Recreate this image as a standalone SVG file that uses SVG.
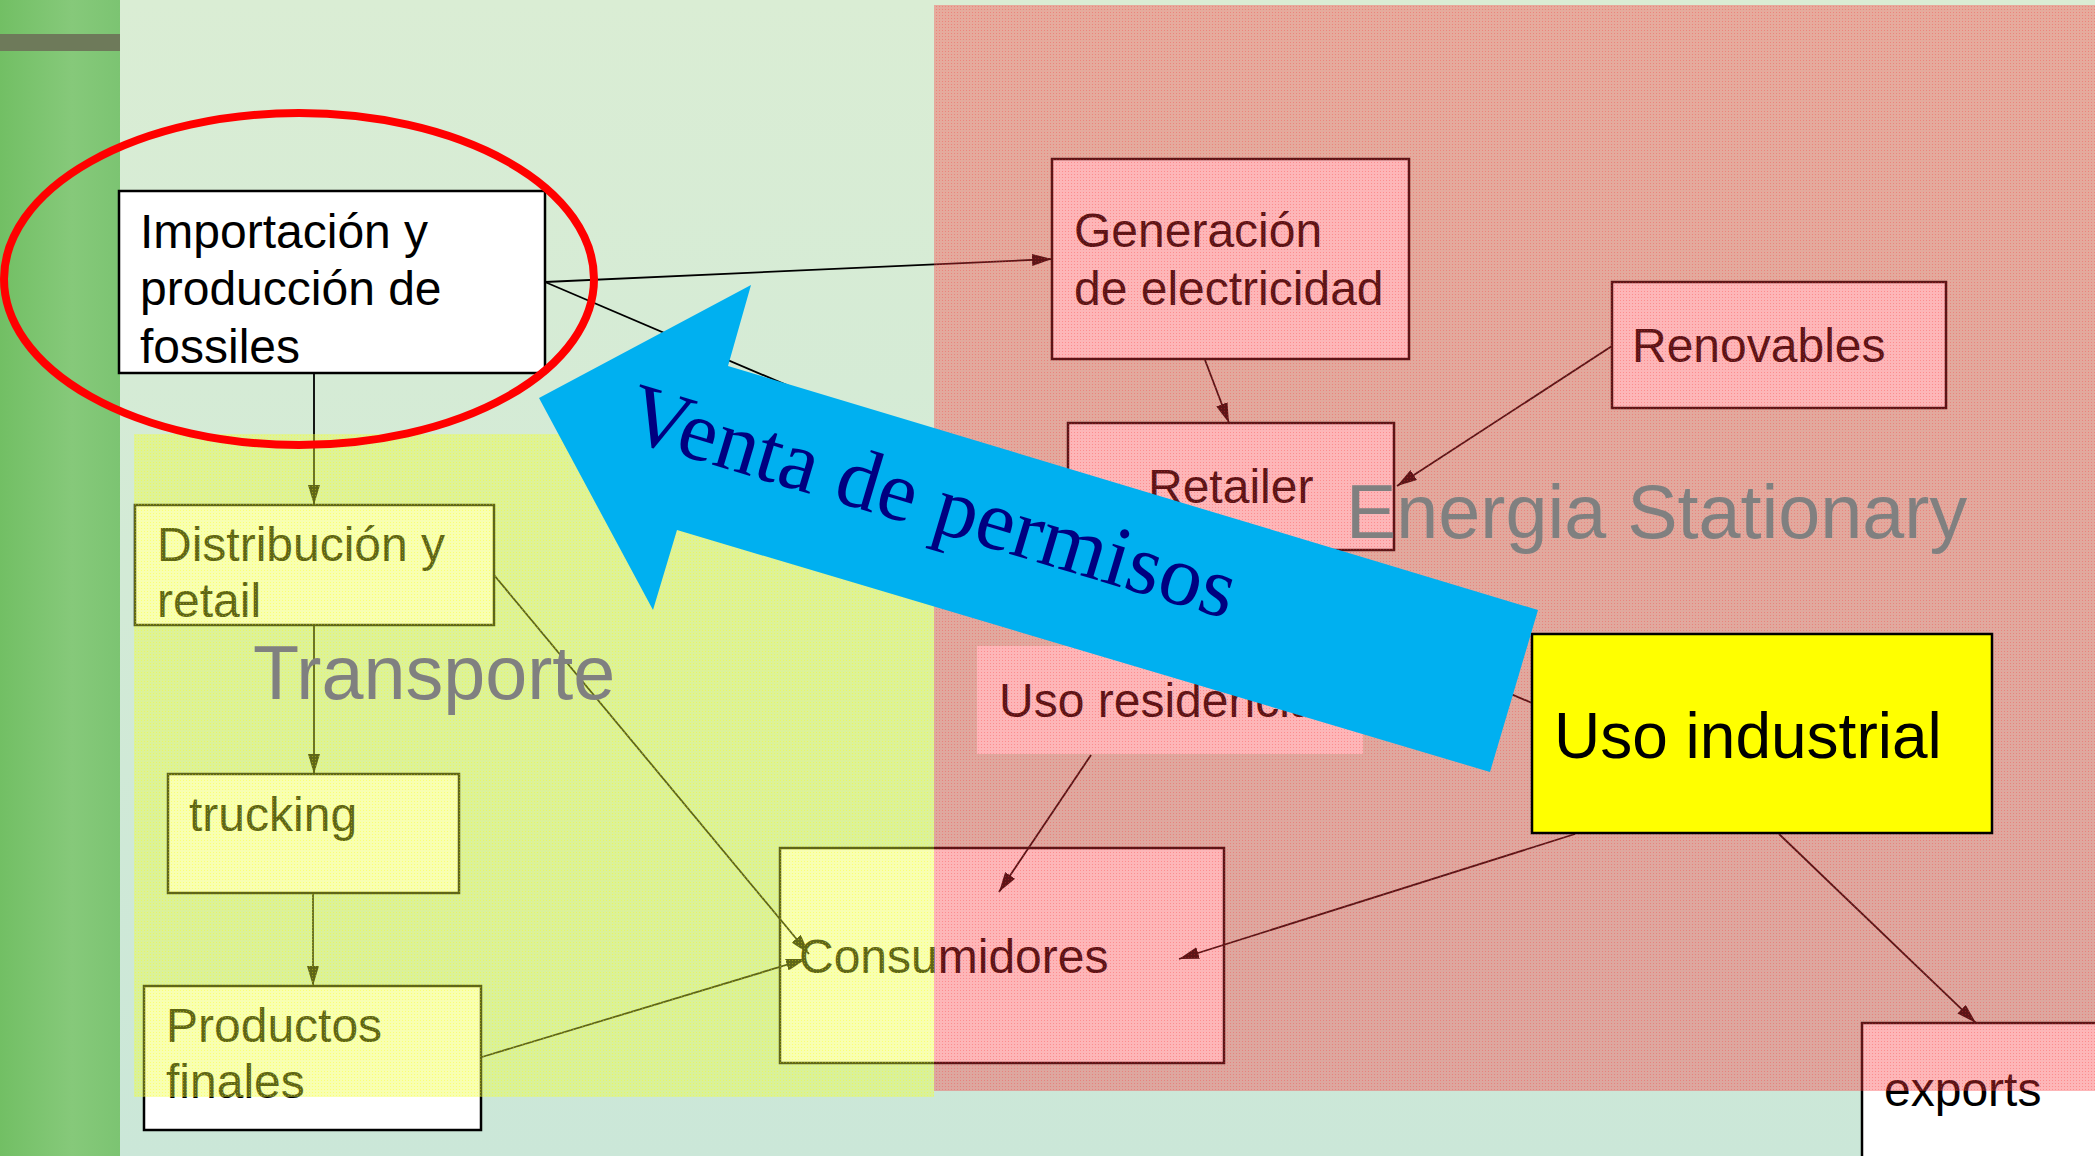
<svg xmlns="http://www.w3.org/2000/svg" width="2095" height="1156" viewBox="0 0 2095 1156">
<defs>
<style>
.box{fill:#fff;stroke:#000;stroke-width:2.5}
.nob{fill:#fff;stroke:none}
.t{font-family:"Liberation Sans",Arial,sans-serif;font-size:48px;fill:#000}
.conn{stroke:#000;stroke-width:1.8;fill:none}
.arr{marker-end:url(#ah)}
.zone{font-family:"Liberation Sans",Arial,sans-serif;fill:#808080}
</style>
<linearGradient id="bg" x1="0" y1="0" x2="0" y2="1">
<stop offset="0" stop-color="#daedd4"/><stop offset="1" stop-color="#cbe7d8"/>
</linearGradient>
<linearGradient id="stripe" x1="0" y1="0" x2="1" y2="0">
<stop offset="0" stop-color="#72bf64"/><stop offset="0.6" stop-color="#86c97a"/><stop offset="1" stop-color="#7cc472"/>
</linearGradient>
<pattern id="redp" width="3" height="3" patternUnits="userSpaceOnUse">
<rect width="3" height="3" fill="#f8383e" fill-opacity="0.37"/>
<rect width="1" height="1" fill="#ff2a30" fill-opacity="0.3"/>
</pattern>
<pattern id="yelp" width="3" height="3" patternUnits="userSpaceOnUse">
<rect width="3" height="3" fill="#eeff3c" fill-opacity="0.4"/>
<rect width="1" height="1" fill="#ffff00" fill-opacity="0.35"/>
</pattern>
<marker id="ah" viewBox="0 0 20 12" refX="20" refY="6" markerWidth="20" markerHeight="12" markerUnits="userSpaceOnUse" orient="auto">
<path d="M0,0 L20,6 L0,12 z" fill="#000"/>
</marker>
</defs>

<g id="background">
<rect x="0" y="0" width="2095" height="1156" fill="url(#bg)"/>
<rect x="0" y="0" width="120" height="1156" fill="url(#stripe)"/>
<rect x="0" y="34" width="120" height="17" fill="#6e7a5a"/>
</g>

<g id="node-importacion">
<rect class="box" x="119" y="191" width="426" height="182"/>
<text class="t" x="140" y="248">Importación y</text>
<text class="t" x="140" y="305">producción de</text>
<text class="t" x="140" y="363">fossiles</text>
</g>
<g id="node-generacion">
<rect class="box" x="1052" y="159" width="357" height="200"/>
<text class="t" x="1074" y="247">Generación</text>
<text class="t" x="1074" y="305">de electricidad</text>
</g>
<g id="node-renovables">
<rect class="box" x="1612" y="282" width="334" height="126"/>
<text class="t" x="1632" y="362">Renovables</text>
</g>
<g id="node-retailer">
<rect class="box" x="1068" y="423" width="326" height="127"/>
<text class="t" x="1148" y="503">Retailer</text>
</g>
<g id="node-uso-residencial">
<rect class="nob" x="977" y="646" width="386" height="108"/>
<text class="t" x="999" y="717">Uso residencial</text>
</g>
<g id="node-consumidores">
<rect class="box" x="780" y="848" width="444" height="215"/>
<text class="t" x="799" y="973">Consumidores</text>
</g>
<g id="node-exports">
<rect class="box" x="1862" y="1023" width="260" height="160"/>
<text class="t" x="1884" y="1106">exports</text>
</g>
<g id="node-distribucion">
<rect class="box" x="135" y="505" width="359" height="120"/>
<text class="t" x="157" y="561">Distribución y</text>
<text class="t" x="157" y="617">retail</text>
</g>
<g id="node-trucking">
<rect class="box" x="168" y="774" width="291" height="119"/>
<text class="t" x="189" y="831">trucking</text>
</g>
<g id="node-productos">
<rect class="box" x="144" y="986" width="337" height="144"/>
<text class="t" x="166" y="1042">Productos</text>
<text class="t" x="166" y="1098">finales</text>
</g>

<g id="connectors">
<line class="conn arr" x1="545" y1="282" x2="1052" y2="259"/>
<line class="conn" x1="545" y1="282" x2="1532" y2="703"/>
<line class="conn arr" x1="1205" y1="360" x2="1229" y2="423"/>
<line class="conn arr" x1="1612" y1="346" x2="1397" y2="486"/>
<line class="conn arr" x1="1091" y1="755" x2="999" y2="892"/>
<line class="conn arr" x1="1575" y1="834" x2="1179" y2="959"/>
<line class="conn arr" x1="1779" y1="834" x2="1976" y2="1023"/>
<line class="conn arr" x1="314" y1="373" x2="314" y2="505"/>
<line class="conn arr" x1="314" y1="625" x2="314" y2="774"/>
<line class="conn arr" x1="313" y1="893" x2="313" y2="986"/>
<line class="conn arr" x1="494" y1="575" x2="809" y2="954"/>
<line class="conn arr" x1="482" y1="1057" x2="806" y2="959"/>
</g>

<g id="zones">
<rect x="934" y="5" width="1161" height="1086" fill="url(#redp)"/>
<rect x="134" y="434" width="800" height="663" fill="url(#yelp)"/>
</g>

<g id="node-uso-industrial">
<rect x="1532" y="634" width="460" height="199" fill="#ffff00" stroke="#000" stroke-width="2.5"/>
<text class="t" x="1554" y="758" style="font-size:64px">Uso industrial</text>
</g>

<g id="zone-labels">
<text class="zone" x="253" y="699" font-size="75.5">Transporte</text>
<text class="zone" x="1346" y="538" font-size="75.5">Energia Stationary</text>
</g>

<g id="highlight">
<ellipse cx="299" cy="279" rx="295" ry="166" fill="none" stroke="#ff0000" stroke-width="8"/>
</g>

<g id="venta-arrow">
<polygon points="539,398 751,285 728,366 1538,610 1490,772 677,530 653,610" fill="#00b0f0"/>
<text x="623" y="438" transform="rotate(16.7 623 438)" font-family="'Liberation Serif','Times New Roman',serif" font-size="86" fill="#000080">Venta de permisos</text>
</g>
</svg>
